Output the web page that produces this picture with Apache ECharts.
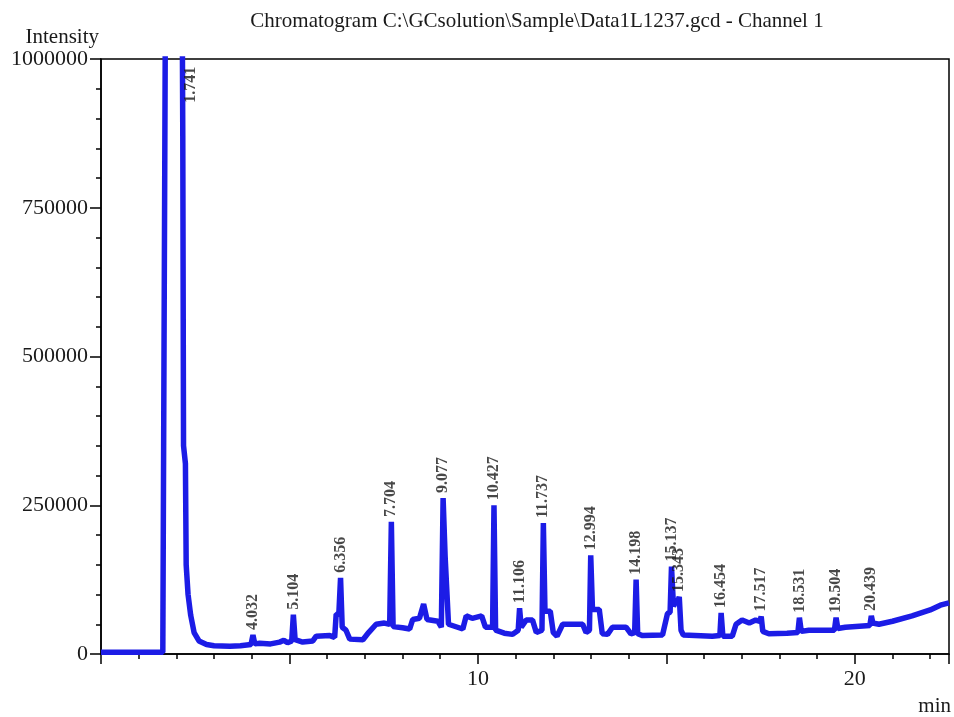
<!DOCTYPE html>
<html>
<head>
<meta charset="utf-8">
<script src="https://cdn.jsdelivr.net/npm/echarts@6/dist/echarts.min.js"></script>
<style>
  html, body { margin: 0; padding: 0; background: #fff; }
  #chart { width: 954px; height: 717px; }
</style>
</head>
<body>
<div id="chart"></div>
<script>
// GC chromatogram, channel 1: baseline trace points plus the integrated peaks.
const chartTitle = 'Chromatogram C:\\GCsolution\\Sample\\Data1L1237.gcd - Channel 1';

// Detected peaks: retention time (min) and apex intensity.
const peakTimes = [1.741, 4.032, 5.104, 6.356, 7.704, 9.077, 10.427, 11.106, 11.737,
                   12.994, 14.198, 15.137, 15.343, 16.454, 17.517, 18.531, 19.504, 20.439];
const peakHeights = [1600000, 32000, 66000, 128000, 222000, 262000, 250000, 77000, 220000,
                     166000, 125000, 147000, 96000, 69000, 63000, 61000, 61000, 64000];
const peakLabels = ['1.741', '4.032', '5.104', '6.356', '7.704', '9.077', '10.427', '11.106', '11.737',
                    '12.994', '14.198', '15.137', '15.343', '16.454', '17.517', '18.531', '19.504', '20.439'];

// Signal between the labelled apexes (min, intensity).
const baseTime = [
  0.00, 1.64, 2.12, 2.17, 2.19, 2.24, 2.26, 2.31, 2.38, 2.47, 2.60, 2.80, 3.00, 3.42, 3.70, 3.98,
  4.08, 4.21, 4.50, 4.74, 4.85, 4.95, 5.06,
  5.15, 5.35, 5.62, 5.71, 6.07, 6.20, 6.24, 6.31,
  6.40, 6.50, 6.60, 6.95, 7.10, 7.30, 7.52, 7.66,
  7.75, 8.00, 8.19, 8.27, 8.45, 8.56, 8.60, 8.65, 8.94, 9.03,
  9.13, 9.17, 9.22, 9.60, 9.69, 9.85, 10.10, 10.20, 10.39,
  10.47, 10.70, 10.92, 11.07,
  11.15, 11.28, 11.45, 11.55, 11.70,
  11.78, 11.82, 11.92, 12.00, 12.10, 12.25, 12.78, 12.87, 12.96,
  13.04, 13.10, 13.22, 13.30, 13.44, 13.57, 13.93, 14.06, 14.16,
  14.24, 14.37, 14.90, 15.03, 15.10,
  15.19, 15.25, 15.31,
  15.39, 15.45, 16.22, 16.42,
  16.50, 16.75, 16.85, 17.01, 17.20, 17.37, 17.48,
  17.56, 17.72, 18.20, 18.49,
  18.58, 18.78, 19.46,
  19.55, 19.75, 20.40,
  20.48, 20.64, 21.00, 21.52, 22.00, 22.27, 22.50
];
const baseIntensity = [
  3000, 3000, 1600000, 870000, 350000, 320000, 150000, 100000, 65000, 36000, 22000, 16000, 14000, 13000, 14000, 16000,
  17000, 18000, 17000, 20000, 23000, 19000, 22000,
  24000, 20000, 22000, 30000, 31000, 28000, 67000, 67000,
  45000, 40000, 25000, 24000, 36000, 50000, 52000, 50000,
  46000, 44000, 42000, 58000, 60000, 84000, 84000, 58000, 55000, 45000,
  165000, 165000, 50000, 42000, 64000, 60000, 64000, 45000, 45000,
  40000, 35000, 33000, 40000,
  45000, 57000, 57000, 36000, 40000,
  72000, 72000, 72000, 36000, 30000, 50000, 50000, 36000, 40000,
  75000, 75000, 75000, 34000, 33000, 45000, 45000, 34000, 36000,
  34000, 31000, 32000, 68000, 70000,
  80000, 88000, 90000,
  40000, 32000, 30000, 31000,
  30000, 30000, 50000, 57000, 52000, 57000, 55000,
  38000, 34000, 35000, 36000,
  38000, 40000, 40000,
  43000, 45000, 48000,
  52000, 50000, 55000, 64000, 74000, 82000, 86000
];

// Merge baseline and apex points into one time-ordered trace.
const trace = baseTime.map((t, i) => [t, baseIntensity[i]])
  .concat(peakTimes.map((t, i) => [t, peakHeights[i]]))
  .sort((a, b) => a[0] - b[0]);

const yMax = 1000000;
const labelCap = 918000;   // off-scale apexes get their label near the top of the frame

const labelPoints = peakTimes.map((t, i) => {
  const clipped = peakHeights[i] > yMax;
  const item = { value: [t, clipped ? labelCap : peakHeights[i]], name: peakLabels[i] };
  // rotated text: the second offset component pushes the label to the right of the overloaded peak
  if (clipped) item.label = { offset: [0, 24] };
  return item;
});

const serif = 'Liberation Serif, Times New Roman, serif';
const ink = '#1a1a1a';
const traceBlue = '#1c1ce6';

const chart = echarts.init(document.getElementById('chart'), null, { renderer: 'canvas' });
chart.setOption({
  animation: false,
  backgroundColor: '#ffffff',
  title: {
    text: chartTitle,
    left: 532,
    top: 6,
    textAlign: 'center',
    textStyle: { fontFamily: serif, fontSize: 21, fontWeight: 'normal', color: ink }
  },
  grid: {
    left: 101, right: 4, top: 59, bottom: 62,
    show: true, borderColor: '#000', borderWidth: 1.5, backgroundColor: 'transparent'
  },
  xAxis: {
    type: 'value',
    min: 0, max: 22.5, interval: 5,
    name: 'min',
    nameLocation: 'end',
    nameGap: 2,
    nameTextStyle: {
      fontFamily: serif, fontSize: 21, color: ink,
      align: 'right', verticalAlign: 'top', padding: [42, 0, 0, 0]
    },
    axisLine: { show: true, onZero: false, lineStyle: { color: '#000', width: 1.5 } },
    axisTick: { show: true, length: 10, lineStyle: { color: '#000', width: 1.5 } },
    minorTick: { show: true, splitNumber: 5, length: 5, lineStyle: { color: '#000', width: 1.5 } },
    axisLabel: {
      margin: 14, fontFamily: serif, fontSize: 22, color: ink,
      showMinLabel: false, showMaxLabel: false,
      formatter: v => (v > 0 && v % 10 === 0) ? String(v) : ''
    },
    splitLine: { show: false }
  },
  yAxis: {
    type: 'value',
    min: 0, max: yMax, interval: 250000,
    name: 'Intensity',
    nameLocation: 'end',
    nameGap: 5,
    nameTextStyle: { fontFamily: serif, fontSize: 21, color: ink, align: 'right', padding: [0, 2, 0, 0] },
    axisLine: { show: true, lineStyle: { color: '#000', width: 1.5 } },
    axisTick: { show: true, length: 11, lineStyle: { color: '#000', width: 1.5 } },
    minorTick: { show: true, splitNumber: 5, length: 5, lineStyle: { color: '#000', width: 1.5 } },
    axisLabel: {
      margin: 13, fontFamily: serif, fontSize: 22, color: ink,
      formatter: v => String(v)
    },
    splitLine: { show: false }
  },
  series: [
    {
      name: 'Channel 1',
      type: 'line',
      data: trace,
      symbol: 'none',
      clip: true,
      lineStyle: { color: traceBlue, width: 5.5, join: 'bevel' },
      z: 2
    },
    {
      name: 'peak labels',
      type: 'scatter',
      data: labelPoints,
      symbolSize: 0,
      silent: true,
      clip: false,
      z: 3,
      label: {
        show: true,
        position: 'top',
        distance: 5,
        rotate: 90,
        align: 'left',
        verticalAlign: 'middle',
        formatter: p => p.name,
        fontFamily: serif,
        fontWeight: 'bold',
        fontSize: 16,
        color: ink
      }
    }
  ]
});
</script>
</body>
</html>
